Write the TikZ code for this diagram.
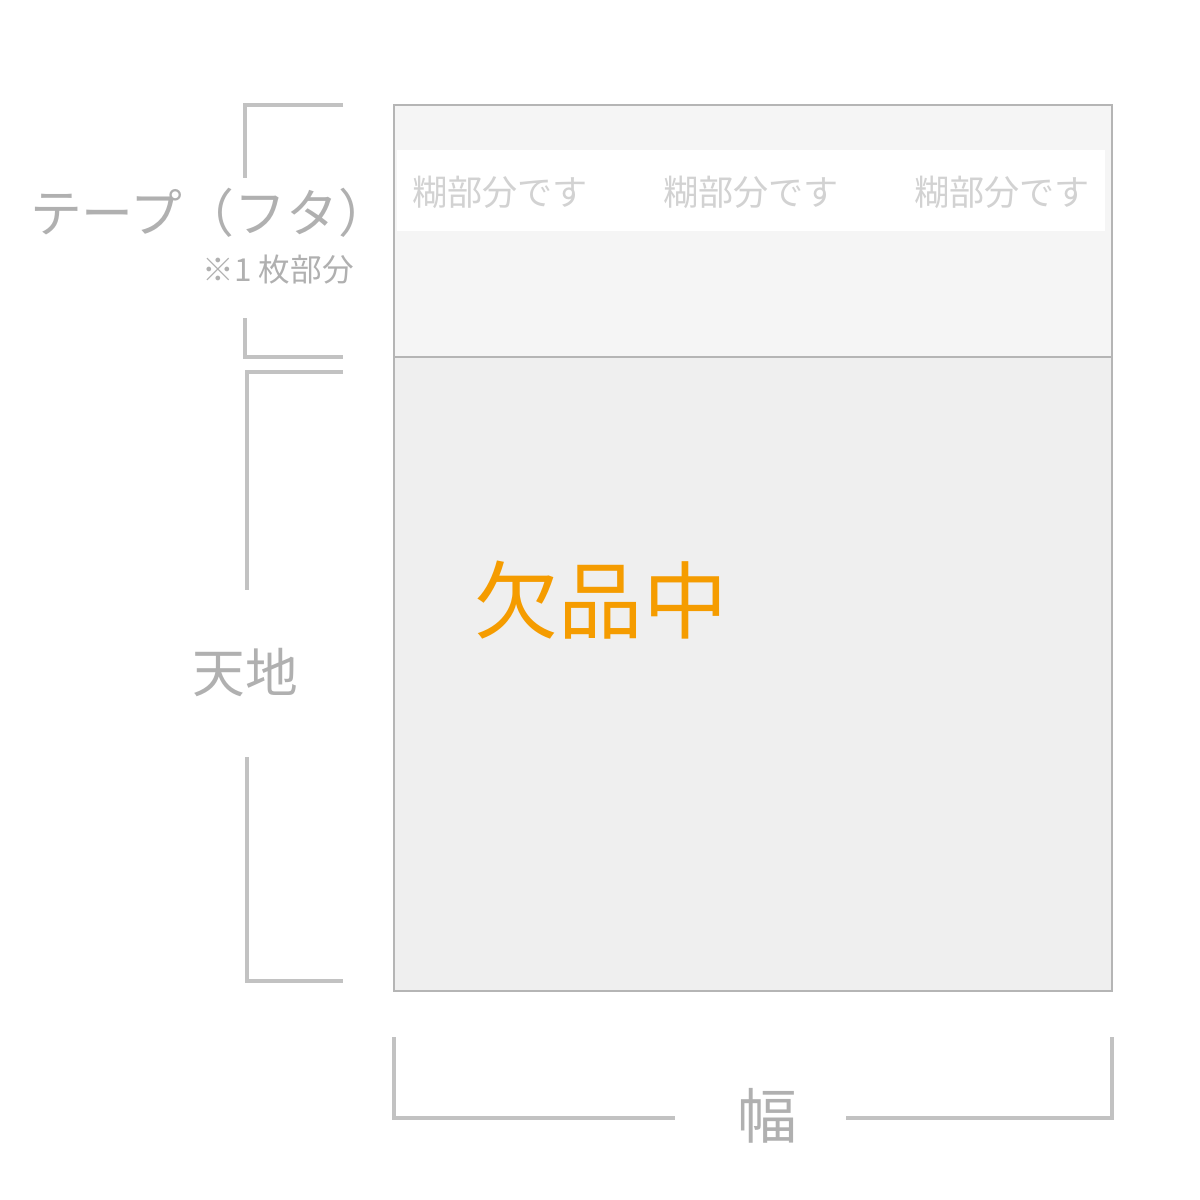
\documentclass[tikz,border=0pt]{standalone}
\usepackage{fontspec}
\setmainfont{Noto Sans CJK JP}
\definecolor{labelgray}{HTML}{B0B0B0}
\definecolor{pastegray}{HTML}{D2D2D2}
\definecolor{edgegray}{HTML}{B5B5B5}
\definecolor{brackgray}{HTML}{C2C2C2}
\definecolor{tapefill}{HTML}{F5F5F5}
\definecolor{bodyfill}{HTML}{EFEFEF}
\definecolor{stockorange}{HTML}{F59C00}
\tikzset{
  bracket/.style={draw=brackgray,line width=2.2pt},
  dimlabel/.style={text=labelgray,inner sep=0pt},
  pastelabel/.style={text=pastegray,inner sep=0pt,font=\fontsize{20}{20}\selectfont}
}
\begin{document}
\begin{tikzpicture}[x=0.02cm,y=-0.02cm]
	\useasboundingbox (0,0) rectangle (1200,1200);
	% bag: tape flap and body
	\fill[tapefill] (394,105) rectangle (1112,357);
	\fill[white] (397,150) rectangle (1105,231);
	\fill[bodyfill] (394,357) rectangle (1112,991);
	\draw[edgegray,line width=1.3pt] (394,105) rectangle (1112,991);
	\draw[edgegray,line width=1.3pt] (394,357) -- (1112,357);
	\foreach \i/\x in {1/500,2/751,3/1002}
		\node[pastelabel] (paste\i) at (\x,192) {糊部分です};
	\node[text=stockorange,inner sep=0pt,font=\fontsize{48}{48}\selectfont] (stock) at (601,600) {欠品中};
	% tape bracket
	\node[dimlabel,font=\fontsize{29.5}{30}\selectfont] (tape) at (210,213) {テープ（フタ）};
	\node[dimlabel,font=\fontsize{18}{18}\selectfont,anchor=east] (sheet) at (354,270) {※1 枚部分};
	\draw[bracket] (343,105) -- (245,105) -- (245,178);
	\draw[bracket] (245,318) -- (245,357) -- (343,357);
	% height bracket
	\node[dimlabel,font=\fontsize{30}{30}\selectfont] (height) at (245,673) {天地};
	\draw[bracket] (343,372) -- (247,372) -- (247,590);
	\draw[bracket] (247,757) -- (247,981) -- (343,981);
	% width bracket
	\node[dimlabel,font=\fontsize{34}{34}\selectfont] (width) at (767,1116) {幅};
	\draw[bracket] (394,1037) -- (394,1118) -- (675,1118);
	\draw[bracket] (846,1118) -- (1112,1118) -- (1112,1037);
\end{tikzpicture}
\end{document}
